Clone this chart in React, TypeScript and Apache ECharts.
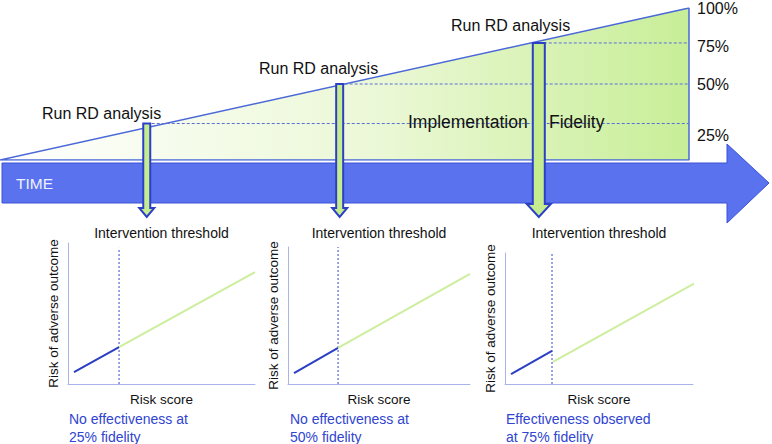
import React, { useEffect, useRef } from "react";
import * as echarts from "echarts";

// ---------- data ----------
const rampOutline: number[][] = [[0, 0], [100, 100], [100, 0], [0, 0]]; // implementation fidelity ramp (time %, fidelity %)
const arrowTimes = [21.3, 49.3, 78.2]; // time (%) when RD analysis is run
const fidelityLevels = [24, 50, 77]; // fidelity (%) reached at each analysis
const fidelityTickValues = [25, 50, 75, 100];
const fidelityTickLabels = ["25%", "50%", "75%", "100%"];
const analysisLabel = "Run RD analysis";

const thresholds = [27.3, 27.5, 25];
const thresholdTop = [96.5, 100, 100];
const belowThreshold: number[][][] = [
  [[3.2, 8.5], [27.3, 26.2]],
  [[3.3, 8.0], [27.5, 26.3]],
  [[3.2, 7.6], [25, 25.2]],
];
const aboveThreshold: number[][][] = [
  [[27.3, 26.2], [100, 79.4]],
  [[27.5, 26.3], [100, 80.3]],
  [[25.5, 16.8], [103, 78.6]],
];
const captions = [
  ["No effectiveness at", "25% fidelity"],
  ["No effectiveness at", "50% fidelity"],
  ["Effectiveness observed", "at 75% fidelity"],
];
const xAxisName = "Risk score";
const yAxisName = "Risk of adverse outcome";
const topName = "Intervention threshold";

// ---------- layout / style ----------
const FONT = '"Liberation Sans", Arial, Helvetica, sans-serif';
const panelLeft = [68, 288, 505];
const panelWidth = [187, 182, 188];
const panelTop = [243, 247, 253];
const panelBottom = 384;
const captionX = [69, 290, 506];
const shaftW = [7, 7, 12];
const headW = [15, 15, 24];
const headL = [9, 9, 13];
const analysisLabelPos = [[42, 113], [259, 68], [451, 25]];

export default function App() {
  const ref = useRef<HTMLDivElement>(null);
  useEffect(() => {
    document.body.style.margin = "0";
    const chart = echarts.init(ref.current!, undefined, { renderer: "svg" });

    const grids: any[] = [{ left: 0, top: 8, width: 689, height: 152 }];
    panelLeft.forEach((l, i) =>
      grids.push({ left: l, top: panelTop[i], width: panelWidth[i], height: panelBottom - panelTop[i] })
    );

    const axisLineStyle = { color: "#aab2ee", width: 1 };
    const xAxes: any[] = [{ gridIndex: 0, type: "value", min: 0, max: 100, show: false }];
    panelLeft.forEach((_, i) =>
      xAxes.push({
        gridIndex: i + 1, type: "value", min: 0, max: 100,
        axisLine: { show: true, onZero: false, lineStyle: axisLineStyle },
        axisTick: { show: false }, axisLabel: { show: false }, splitLine: { show: false },
        name: xAxisName, nameLocation: "middle", nameGap: 8,
        nameTextStyle: { fontSize: 13.5, color: "#111", fontFamily: FONT },
      })
    );
    panelLeft.forEach((_, i) =>
      xAxes.push({
        gridIndex: i + 1, type: "value", min: 0, max: 100, position: "top",
        axisLine: { show: false }, axisTick: { show: false }, axisLabel: { show: false }, splitLine: { show: false },
        name: topName, nameLocation: "middle", nameGap: panelTop[i] - 240,
        nameTextStyle: { fontSize: 14, color: "#111", fontFamily: FONT },
      })
    );

    const yAxes: any[] = [
      {
        gridIndex: 0, type: "value", min: 0, max: 100, interval: 25, position: "right",
        axisLine: { show: false }, axisTick: { show: false }, splitLine: { show: false },
        axisLabel: {
          margin: 8, fontSize: 16, color: "#111", fontFamily: FONT,
          formatter: (v: number) => {
            const idx = fidelityTickValues.indexOf(v);
            if (idx < 0) return "";
            return idx === 0 ? `{low|${fidelityTickLabels[idx]}}` : fidelityTickLabels[idx];
          },
          rich: { low: { padding: [26, 0, 0, 0], fontSize: 16, color: "#111", fontFamily: FONT } },
        },
      },
    ];
    panelLeft.forEach((_, i) =>
      yAxes.push({
        gridIndex: i + 1, type: "value", min: 0, max: 100,
        axisLine: { show: true, onZero: false, lineStyle: axisLineStyle },
        axisTick: { show: false }, axisLabel: { show: false }, splitLine: { show: false },
        name: yAxisName, nameLocation: "middle", nameRotate: 90, nameGap: 8,
        nameTextStyle: { fontSize: 13.5, color: "#111", fontFamily: FONT },
      })
    );

    const series: any[] = [
      {
        type: "line", xAxisIndex: 0, yAxisIndex: 0, data: rampOutline, symbol: "none", z: 2,
        lineStyle: { color: "#4a68d8", width: 1.5 },
        areaStyle: {
          opacity: 1,
          color: new echarts.graphic.LinearGradient(0, 0, 1, 0, [
            { offset: 0, color: "#ffffff" },
            { offset: 0.55, color: "#ebf8d6" },
            { offset: 1, color: "#c8ee98" },
          ]),
        },
      },
    ];
    fidelityLevels.forEach((lv, i) =>
      series.push({
        type: "line", xAxisIndex: 0, yAxisIndex: 0, symbol: "none", z: 3,
        data: [[arrowTimes[i], lv], [100, lv]],
        lineStyle: { color: "#5a70d4", width: 1, type: [3, 2] },
      })
    );
    // TIME arrow
    series.push({
      type: "custom", xAxisIndex: 0, yAxisIndex: 0, z: 4, clip: false,
      data: [[0, 0]],
      renderItem: (_p: any, api: any) => {
        const base = api.coord([0, 0]);
        const right = api.coord([100, 0])[0];
        const by = base[1];
        const hx = right + 38;
        return {
          type: "group",
          children: [
            {
              type: "polygon",
              shape: {
                points: [
                  [base[0] + 2, by + 3], [hx, by + 3], [hx, by - 16], [right + 80, by + 23],
                  [hx, by + 63], [hx, by + 43], [base[0] + 2, by + 43],
                ],
              },
              style: { fill: "#5a72ee", stroke: "#3b52d4", lineWidth: 1 },
            },
            {
              type: "text",
              style: {
                text: "TIME", x: base[0] + 16, y: by + 23, verticalAlign: "middle",
                fill: "#eef1ff", fontSize: 15.5, fontFamily: FONT,
              },
            },
          ],
        };
      },
    });
    // down arrows
    series.push({
      type: "custom", xAxisIndex: 0, yAxisIndex: 0, z: 6, clip: false,
      data: arrowTimes.map((t, i) => [t, fidelityLevels[i]]),
      renderItem: (p: any, api: any) => {
        const i = p.dataIndex;
        const top = api.coord([api.value(0), api.value(1)]);
        const base = api.coord([api.value(0), 0]);
        const tipY = base[1] + 57;
        const cx = top[0];
        const sw = shaftW[i] / 2, hw = headW[i] / 2, hl = headL[i];
        return {
          type: "polygon",
          shape: {
            points: [
              [cx - sw, top[1]], [cx + sw, top[1]], [cx + sw, tipY - hl], [cx + hw, tipY - hl],
              [cx, tipY], [cx - hw, tipY - hl], [cx - sw, tipY - hl],
            ],
          },
          style: { fill: "#c6ec90", stroke: "#2c40c6", lineWidth: 2 },
        };
      },
    });
    // panels
    thresholds.forEach((th, i) => {
      series.push({
        type: "line", xAxisIndex: i + 1, yAxisIndex: i + 1, symbol: "none", clip: false,
        data: [[th, 0], [th, thresholdTop[i]]],
        lineStyle: { color: "#3348c8", width: 1, type: [2, 2] },
      });
      series.push({
        type: "line", xAxisIndex: i + 1, yAxisIndex: i + 1, symbol: "none", clip: false,
        data: belowThreshold[i], lineStyle: { color: "#2a3ec6", width: 2 },
      });
      series.push({
        type: "line", xAxisIndex: i + 1, yAxisIndex: i + 1, symbol: "none", clip: false,
        data: aboveThreshold[i], lineStyle: { color: "#cdee9e", width: 2 },
      });
    });

    const graphic: any[] = [];
    analysisLabelPos.forEach(([x, y]) =>
      graphic.push({
        type: "text", x, y, z: 10,
        style: { text: analysisLabel, fontSize: 16, fontFamily: FONT, fill: "#111", verticalAlign: "middle" },
      })
    );
    graphic.push({
      type: "text", x: 408, y: 122, z: 10,
      style: { text: "Implementation", fontSize: 17.5, fontFamily: FONT, fill: "#111", verticalAlign: "middle" },
    });
    graphic.push({
      type: "text", x: 549, y: 122, z: 10,
      style: { text: "Fidelity", fontSize: 17.5, fontFamily: FONT, fill: "#111", verticalAlign: "middle" },
    });
    captions.forEach((lines, i) =>
      lines.forEach((t, j) =>
        graphic.push({
          type: "text", x: captionX[i], y: 419 + j * 18, z: 10,
          style: { text: t, fontSize: 14, fontFamily: FONT, fill: "#2f44d0", verticalAlign: "middle" },
        })
      )
    );

    chart.setOption({
      animation: false,
      backgroundColor: "#ffffff",
      grid: grids,
      xAxis: xAxes,
      yAxis: yAxes,
      series,
      graphic,
    });
    return () => chart.dispose();
  }, []);
  return <div ref={ref} style={{ width: 772, height: 444, position: "absolute", left: 0, top: 0 }} />;
}
